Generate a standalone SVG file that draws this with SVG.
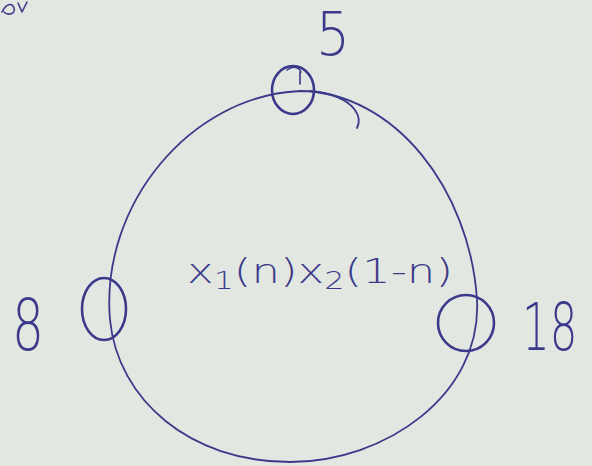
<svg xmlns="http://www.w3.org/2000/svg" width="592" height="466" viewBox="0 0 592 466">
<style>
.ink{fill:none;stroke:#3b3a8a;stroke-linecap:round;stroke-linejoin:round}
.node{stroke-width:2.6}
.edge{stroke-width:1.8}
.lbl{fill:#3b3a8a;font-family:"DejaVu Sans","Liberation Sans",Arial,sans-serif;font-weight:200}
</style>
<rect width="592" height="466" fill="#e3e7e2"/>
<path class="ink" d="M2 12 C6 4 12 2 14 8 C16 14 8 16 4 12 M18 3 L22 12 L27 2" stroke-width="1.6"/>
<g id="connectors">
<path class="ink edge" d="M300 91 C395 92 470 190 477 300 C482 395 385 462 290 462 C190 462 118 400 110 320 C100 205 190 96 300 91 Z"/>
<path class="ink edge" d="M310 91 C330 92 348 100 355 110 C360 117 359 124 357 128"/>
</g>
<g id="node-top">
<ellipse class="ink node" cx="293" cy="90" rx="21" ry="24"/>
<path class="ink" stroke-width="1.6" d="M287 70 C292 66 298 66 301 72 M300 72 L300 84"/>
<text class="lbl" x="316" y="55" font-size="60" textLength="34" lengthAdjust="spacingAndGlyphs">5</text>
</g>
<g id="node-left">
<ellipse class="ink node" cx="104" cy="309" rx="22" ry="31"/>
<text class="lbl" x="12" y="350" font-size="72" textLength="32" lengthAdjust="spacingAndGlyphs">8</text>
</g>
<g id="node-right">
<ellipse class="ink node" cx="466" cy="323" rx="28" ry="28"/>
<text class="lbl" transform="translate(522,350) scale(0.66,1)" font-size="66">18</text>
</g>
<text class="lbl" x="187" y="283" font-size="34" textLength="266" lengthAdjust="spacingAndGlyphs">x<tspan font-size="24" dy="6">1</tspan><tspan dy="-6">(n)x</tspan><tspan font-size="24" dy="6">2</tspan><tspan dy="-6">(1-n)</tspan></text>
</svg>
